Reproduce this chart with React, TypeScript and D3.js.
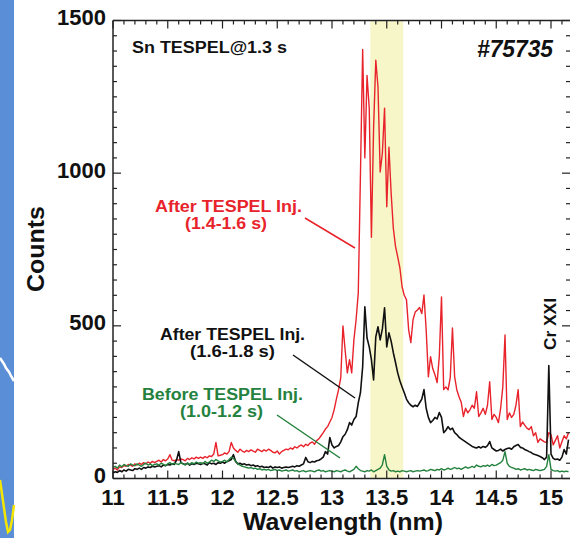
import React from 'react';
import * as d3 from 'd3';

// wavelength grid (nm), 0.02 nm sampling
const wavelengths: number[] = d3.range(209).map((i) => +(11 + i * 0.02).toFixed(2));

// After TESPEL Inj. (1.4-1.6 s)
const redCounts: number[] = [
  30, 34, 28, 38, 36, 42, 40, 46, 44, 40,
  48, 44, 50, 46, 52, 48, 54, 50, 56, 52,
  56, 60, 54, 62, 58, 64, 78, 60, 58, 62,
  60, 64, 62, 58, 66, 62, 68, 64, 70, 66,
  70, 66, 72, 68, 74, 72, 80, 118, 74, 76,
  78, 84, 80, 88, 118, 100, 92, 86, 96, 90,
  86, 92, 88, 94, 90, 86, 96, 92, 88, 94,
  90, 96, 92, 86, 84, 90, 80, 88, 92, 96,
  94, 100, 96, 104, 100, 106, 110, 104, 112, 108,
  116, 120, 112, 124, 130, 140, 150, 162, 170, 185,
  200, 226, 260, 291, 330, 500, 420, 346, 389, 346,
  454, 520, 608, 1000, 1405, 1050, 1320, 1213, 790, 1150,
  1370, 1282, 1004, 1066, 1213, 890, 1085, 935, 820, 760,
  726, 690, 628, 600, 586, 487, 445, 520, 545, 552,
  560, 540, 601, 487, 333, 399, 360, 340, 314, 400,
  595, 291, 300, 290, 330, 493, 333, 290, 268, 250,
  203, 230, 215, 225, 240, 230, 284, 203, 215, 230,
  210, 240, 317, 193, 210, 200, 183, 230, 300, 470,
  193, 215, 200, 210, 240, 291, 170, 185, 175, 165,
  160, 170, 140, 150, 118, 130, 125, 120, 118, 150,
  144, 110, 125, 140, 100, 120, 140, 130, 150,
];

// After TESPEL Inj. (1.6-1.8 s)
const blackCounts: number[] = [
  18, 22, 20, 26, 22, 28, 24, 30, 28, 26,
  32, 30, 34, 30, 36, 34, 38, 36, 40, 38,
  40, 42, 38, 44, 42, 46, 44, 48, 46, 60,
  88, 52, 48, 46, 50, 44, 48, 46, 50, 48,
  46, 50, 48, 44, 52, 48, 50, 46, 52, 50,
  54, 50, 56, 58, 62, 78, 56, 48, 50, 46,
  48, 44, 46, 42, 44, 40, 42, 38, 40, 36,
  38, 36, 40, 34, 38, 36, 38, 34, 36, 38,
  36, 38, 40, 38, 42, 40, 44, 48, 69, 55,
  52, 56, 54, 58, 60, 64, 70, 88, 80, 134,
  110, 100, 105, 108, 120, 137, 145, 160, 183, 175,
  193, 203, 248, 281, 366, 562, 460, 431, 389, 323,
  464, 497, 454, 490, 559, 431, 477, 450, 412, 380,
  346, 320, 300, 281, 260, 248, 240, 235, 240, 236,
  248, 260, 291, 230, 200, 183, 190, 200, 195, 216,
  200, 150, 158, 170, 160, 165, 150, 144, 135, 130,
  125, 120, 115, 110, 105, 102, 100, 104, 100, 105,
  102, 108, 121, 100, 95, 90, 92, 96, 90, 95,
  98, 100, 96, 104, 108, 111, 102, 100, 95, 92,
  88, 85, 80, 78, 75, 72, 68, 62, 70, 370,
  80, 66, 62, 64, 60, 70, 95, 80, 127,
];

// Before TESPEL Inj. (1.0-1.2 s)
const greenCounts: number[] = [
  36, 40, 34, 44, 38, 46, 42, 40, 48, 44,
  42, 48, 44, 40, 46, 50, 44, 48, 42, 46,
  48, 44, 50, 46, 42, 48, 52, 46, 50, 48,
  46, 52, 48, 44, 50, 46, 52, 48, 54, 50,
  52, 48, 56, 50, 54, 60, 56, 62, 58, 54,
  56, 60, 54, 62, 70, 66, 56, 48, 44, 40,
  38, 36, 34, 36, 32, 34, 30, 32, 28, 30,
  28, 30, 26, 28, 30, 26, 28, 24, 26, 28,
  24, 26, 28, 24, 26, 22, 24, 26, 22, 24,
  26, 24, 22, 26, 28, 24, 26, 22, 24, 26,
  24, 22, 26, 24, 22, 26, 28, 24, 22, 26,
  30, 40, 32, 26, 24, 22, 26, 24, 28, 22,
  26, 30, 34, 45, 78, 40, 28, 24, 26, 22,
  24, 22, 26, 24, 22, 24, 26, 22, 24, 26,
  24, 26, 28, 24, 26, 30, 28, 26, 30, 28,
  32, 28, 30, 34, 30, 32, 36, 32, 34, 30,
  34, 38, 34, 36, 40, 36, 44, 40, 38, 42,
  40, 44, 40, 46, 42, 44, 48, 52, 60, 88,
  50, 40, 36, 34, 30, 32, 28, 30, 32, 28,
  30, 28, 26, 30, 28, 26, 28, 30, 40, 78,
  30, 26, 24, 26, 22, 24, 22, 24, 22,
];

const xMajorTicks = [11, 11.5, 12, 12.5, 13, 13.5, 14, 14.5, 15];
const xTickLabels = ['11', '11.5', '12', '12.5', '13', '13.5', '14', '14.5', '15'];
const yMajorTicks = [0, 500, 1000, 1500];
const yTickLabels = ['0', '500', '1000', '1500'];
const bandRange = [13.35, 13.65];
const crXXIWavelength = 14.98;

const FONT = "'Liberation Sans', Arial, Helvetica, sans-serif";
const RED = '#e8232b';
const BLACK = '#111111';
const GREEN = '#24823e';

export default function App() {
  const W = 570;
  const H = 538;
  const left = 113;
  const right = 570;
  const top = 20.5;
  const bottom = 478.5;

  const x = d3.scaleLinear().domain([11, 15]).range([113, 551]);
  const y = d3.scaleLinear().domain([0, 1500]).range([bottom, top]);

  const line = d3
    .line<number>()
    .x((_, i) => x(wavelengths[i]))
    .y((d) => y(d));

  const xMinor = d3.range(110, 152).map((i) => i / 10).filter((v) => x(v) <= right);
  const yMinor = d3.range(0, 1501, 50);

  const axisColor = '#222';

  return (
    <svg
      width={W}
      height={H}
      viewBox={`0 0 ${W} ${H}`}
      style={{ position: 'absolute', left: 0, top: 0, background: '#fff' }}
      fontFamily={FONT}
    >
      <defs>
        <clipPath id="plotClip">
          <rect x={left} y={top} width={right - left} height={bottom - top} />
        </clipPath>
      </defs>

      {/* remnant of the neighbouring figure at the left edge */}
      <rect x={0} y={0} width={14} height={H} fill="#5a8ed6" />
      <path d="M0,358 L4,364 L6,368 L9,372 L11,376 L14,381" stroke="#fff" strokeWidth={2.5} fill="none" />
      <path d="M0,480 L2,494 L4,508 L6,522 L8,532 L10,530 L12,520 L14,505" stroke="#f5e600" strokeWidth={2.5} fill="none" />

      {/* highlighted band */}
      <rect
        x={x(bandRange[0])}
        y={top}
        width={x(bandRange[1]) - x(bandRange[0])}
        height={bottom - top}
        fill="#f7f6c8"
      />

      <g clipPath="url(#plotClip)" fill="none" strokeLinejoin="round">
        <path d={line(redCounts) || ''} stroke={RED} strokeWidth={1.4} />
        <path d={line(blackCounts) || ''} stroke={BLACK} strokeWidth={1.6} />
        <path d={line(greenCounts) || ''} stroke={GREEN} strokeWidth={1.4} />
      </g>

      {/* frame */}
      <g stroke={axisColor} strokeWidth={1.5} fill="none">
        <line x1={left} y1={top} x2={left} y2={bottom} />
        <line x1={left} y1={bottom} x2={right} y2={bottom} />
        <line x1={left} y1={top} x2={right} y2={top} />
        {xMinor.map((v) => {
          const major = Math.abs(v * 2 - Math.round(v * 2)) < 1e-6;
          const len = major ? 8 : 4;
          return (
            <g key={'xt' + v}>
              <line x1={x(v)} x2={x(v)} y1={bottom} y2={bottom - len} strokeWidth={1.2} />
              <line x1={x(v)} x2={x(v)} y1={top} y2={top + len} strokeWidth={1.2} />
            </g>
          );
        })}
        {yMinor.map((v) => {
          const major = v % 500 === 0;
          const len = major ? 8 : 4;
          return (
            <g key={'yt' + v}>
              <line x1={left} x2={left + len} y1={y(v)} y2={y(v)} strokeWidth={1.2} />
              <line x1={right} x2={right - len} y1={y(v)} y2={y(v)} strokeWidth={1.2} />
            </g>
          );
        })}
      </g>

      {/* tick labels */}
      <g fontWeight="bold" fontSize={22} fill="#111">
        {xMajorTicks.map((v, i) => (
          <text key={'xl' + v} x={x(v)} y={505} textAnchor="middle">
            {xTickLabels[i]}
          </text>
        ))}
        {yMajorTicks.map((v, i) => (
          <text key={'yl' + v} x={106} y={y(v) + 4.5} textAnchor="end">
            {yTickLabels[i]}
          </text>
        ))}
      </g>

      {/* axis titles */}
      <text
        x={343}
        y={530}
        textAnchor="middle"
        fontWeight="bold"
        fontSize={23}
        fill="#111"
        textLength={200}
        lengthAdjust="spacingAndGlyphs"
      >
        Wavelength (nm)
      </text>
      <text
        transform="translate(44,249) rotate(-90)"
        textAnchor="middle"
        fontWeight="bold"
        fontSize={23}
        fill="#111"
        textLength={86}
        lengthAdjust="spacingAndGlyphs"
      >
        Counts
      </text>

      {/* in-plot annotations */}
      <text x={132} y={53} fontWeight="bold" fontSize={16} fill="#111" textLength={155} lengthAdjust="spacingAndGlyphs">
        Sn TESPEL@1.3 s
      </text>
      <text x={553} y={57} textAnchor="end" fontWeight="bold" fontStyle="italic" fontSize={23} fill="#111" textLength={76} lengthAdjust="spacingAndGlyphs">
        #75735
      </text>

      <g fontWeight="bold" fontSize={16} textAnchor="middle">
        <text x={228.5} y={212} fill={RED} textLength={147} lengthAdjust="spacingAndGlyphs">After TESPEL Inj.</text>
        <text x={226} y={229} fill={RED} textLength={82} lengthAdjust="spacingAndGlyphs">(1.4-1.6 s)</text>
        <text x={232.5} y={340} fill={BLACK} textLength={145} lengthAdjust="spacingAndGlyphs">After TESPEL Inj.</text>
        <text x={232.5} y={357} fill={BLACK} textLength={85} lengthAdjust="spacingAndGlyphs">(1.6-1.8 s)</text>
        <text x={222.5} y={400} fill={GREEN} textLength={161} lengthAdjust="spacingAndGlyphs">Before TESPEL Inj.</text>
        <text x={221.5} y={417} fill={GREEN} textLength={83} lengthAdjust="spacingAndGlyphs">(1.0-1.2 s)</text>
      </g>

      <g strokeWidth={1.5}>
        <line x1={305} y1={218} x2={355} y2={248} stroke={RED} />
        <line x1={293} y1={355} x2={355} y2={398} stroke={BLACK} />
        <line x1={277} y1={415} x2={340} y2={458} stroke={GREEN} />
      </g>

      <text
        transform={`translate(${x(crXXIWavelength) + 7},324) rotate(-90)`}
        textAnchor="middle"
        fontSize={17}
        fontWeight="bold"
        fill="#111"
        textLength={52}
        lengthAdjust="spacingAndGlyphs"
      >
        Cr XXI
      </text>
    </svg>
  );
}
